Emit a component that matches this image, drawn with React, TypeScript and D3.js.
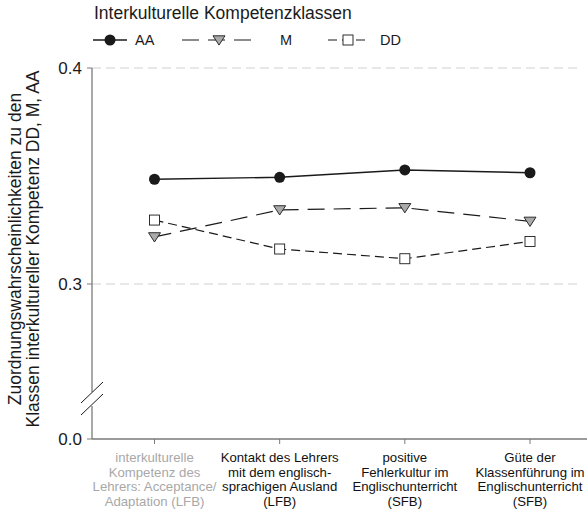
import React from "react";
import * as d3 from "d3";

// categories (x axis), multi-line labels
const categories = [
  ["interkulturelle", "Kompetenz des", "Lehrers: Acceptance/", "Adaptation (LFB)"],
  ["Kontakt des Lehrers", "mit dem englisch-", "sprachigen Ausland", "(LFB)"],
  ["positive", "Fehlerkultur im", "Englischunterricht", "(SFB)"],
  ["Güte der", "Klassenführung im", "Englischunterricht", "(SFB)"],
];
const categoryColors = ["#a8a8a8", "#111", "#111", "#111"];

const valuesAA = [0.3485, 0.3494, 0.3528, 0.3515];
const valuesM = [0.3218, 0.3343, 0.3353, 0.3290];
const valuesDD = [0.3296, 0.3162, 0.3117, 0.3197];

const yTicks = [0.3, 0.4];

const W = 587;
const H = 510;
const FONT = "'Liberation Sans', Arial, sans-serif";

export default function App() {
  const left = 92;
  const right = 582;
  const x = d3
    .scalePoint<number>()
    .domain(d3.range(categories.length))
    .range([154.5, 530])
    .padding(0);
  const y = d3.scaleLinear().domain([0.3, 0.4]).range([284, 68]);
  const yZero = 439; // below the axis break
  const breakTop = 392;
  const breakBottom = 406;

  const line = d3
    .line<number>()
    .x((_, i) => x(i) as number)
    .y((d) => y(d));

  const ink = "#1a1a1a";
  const axisColor = "#7a7a7a";

  const triangle = (cx: number, cy: number, r = 6) =>
    `M${cx - r},${cy - r * 0.7} L${cx + r},${cy - r * 0.7} L${cx},${cy + r * 0.85} Z`;

  const legendY = 40;

  return (
    <svg width={W} height={H} style={{ position: "absolute", left: 0, top: 0 }} fontFamily={FONT}>
      <rect width={W} height={H} fill="#fff" />

      {/* legend */}
      <text x={94} y={19} fontSize={17.5} fill={ink}>
        Interkulturelle Kompetenzklassen
      </text>
      <line x1={93} x2={127} y1={legendY} y2={legendY} stroke={ink} strokeWidth={1.4} />
      <circle cx={110} cy={legendY} r={5.5} fill={ink} />
      <text x={135} y={legendY + 5} fontSize={14.5} fill={ink}>AA</text>

      <line x1={182} x2={256} y1={legendY} y2={legendY} stroke={ink} strokeWidth={1.2} strokeDasharray="17,9" />
      <path d={triangle(219, legendY)} fill="#aaa" stroke={ink} strokeWidth={0.9} />
      <text x={280} y={legendY + 5} fontSize={14.5} fill={ink}>M</text>

      <line x1={328} x2={367} y1={legendY} y2={legendY} stroke={ink} strokeWidth={1.2} strokeDasharray="9,5" />
      <rect x={343} y={legendY - 5} width={10} height={10} fill="#fff" stroke={ink} strokeWidth={0.9} />
      <text x={380} y={legendY + 5} fontSize={14.5} fill={ink}>DD</text>

      {/* grid */}
      {yTicks.map((t) => (
        <line key={t} x1={left} x2={right} y1={y(t)} y2={y(t)} stroke="#d0d0d0" strokeDasharray="9,5" />
      ))}

      {/* y axis with break */}
      <line x1={left} x2={left} y1={y(0.4)} y2={breakTop} stroke={axisColor} strokeWidth={1.3} />
      <line x1={left} x2={left} y1={breakBottom} y2={yZero} stroke={axisColor} strokeWidth={1.3} />
      <line x1={81} x2={103} y1={breakTop + 11} y2={breakTop - 10} stroke={ink} strokeWidth={1} />
      <line x1={81} x2={103} y1={breakBottom + 9} y2={breakBottom - 12} stroke={ink} strokeWidth={1} />
      {yTicks.map((t) => (
        <g key={t}>
          <line x1={left - 5} x2={left} y1={y(t)} y2={y(t)} stroke={axisColor} />
          <text x={left - 10} y={y(t) + 6} fontSize={17} textAnchor="end" fill={ink}>
            {d3.format(".1f")(t)}
          </text>
        </g>
      ))}
      <line x1={left - 5} x2={left} y1={yZero} y2={yZero} stroke={axisColor} />
      <text x={left - 10} y={yZero + 6} fontSize={17} textAnchor="end" fill={ink}>0.0</text>

      {/* x axis */}
      <line x1={left} x2={W} y1={yZero} y2={yZero} stroke={axisColor} strokeWidth={1.3} />
      {categories.map((lines, i) => (
        <g key={i}>
          <line x1={x(i)} x2={x(i)} y1={yZero} y2={yZero + 5} stroke={axisColor} />
          <text textAnchor="middle" fontSize={13.2} fill={categoryColors[i]}>
            {lines.map((l, j) => (
              <tspan key={j} x={x(i)} y={yZero + 23 + j * 14.7}>
                {l}
              </tspan>
            ))}
          </text>
        </g>
      ))}

      {/* y axis title */}
      <text transform="translate(21,249) rotate(-90)" textAnchor="middle" fontSize={17.5} fill={ink}>
        Zuordnungswahrscheinlichkeiten zu den
      </text>
      <text transform="translate(39,249) rotate(-90)" textAnchor="middle" fontSize={17.5} fill={ink}>
        Klassen interkultureller Kompetenz DD, M, AA
      </text>

      {/* series */}
      <path d={line(valuesDD) || ""} fill="none" stroke={ink} strokeWidth={1.2} strokeDasharray="9,5" />
      <path d={line(valuesM) || ""} fill="none" stroke={ink} strokeWidth={1.2} strokeDasharray="17,9" />
      <path d={line(valuesAA) || ""} fill="none" stroke={ink} strokeWidth={1.4} />

      {valuesDD.map((v, i) => (
        <rect key={"dd" + i} x={(x(i) as number) - 5} y={y(v) - 5} width={10} height={10} fill="#fff" stroke={ink} strokeWidth={0.9} />
      ))}
      {valuesM.map((v, i) => (
        <path key={"m" + i} d={triangle(x(i) as number, y(v))} fill="#aaa" stroke={ink} strokeWidth={0.9} />
      ))}
      {valuesAA.map((v, i) => (
        <circle key={"aa" + i} cx={x(i)} cy={y(v)} r={5.5} fill={ink} />
      ))}
    </svg>
  );
}
